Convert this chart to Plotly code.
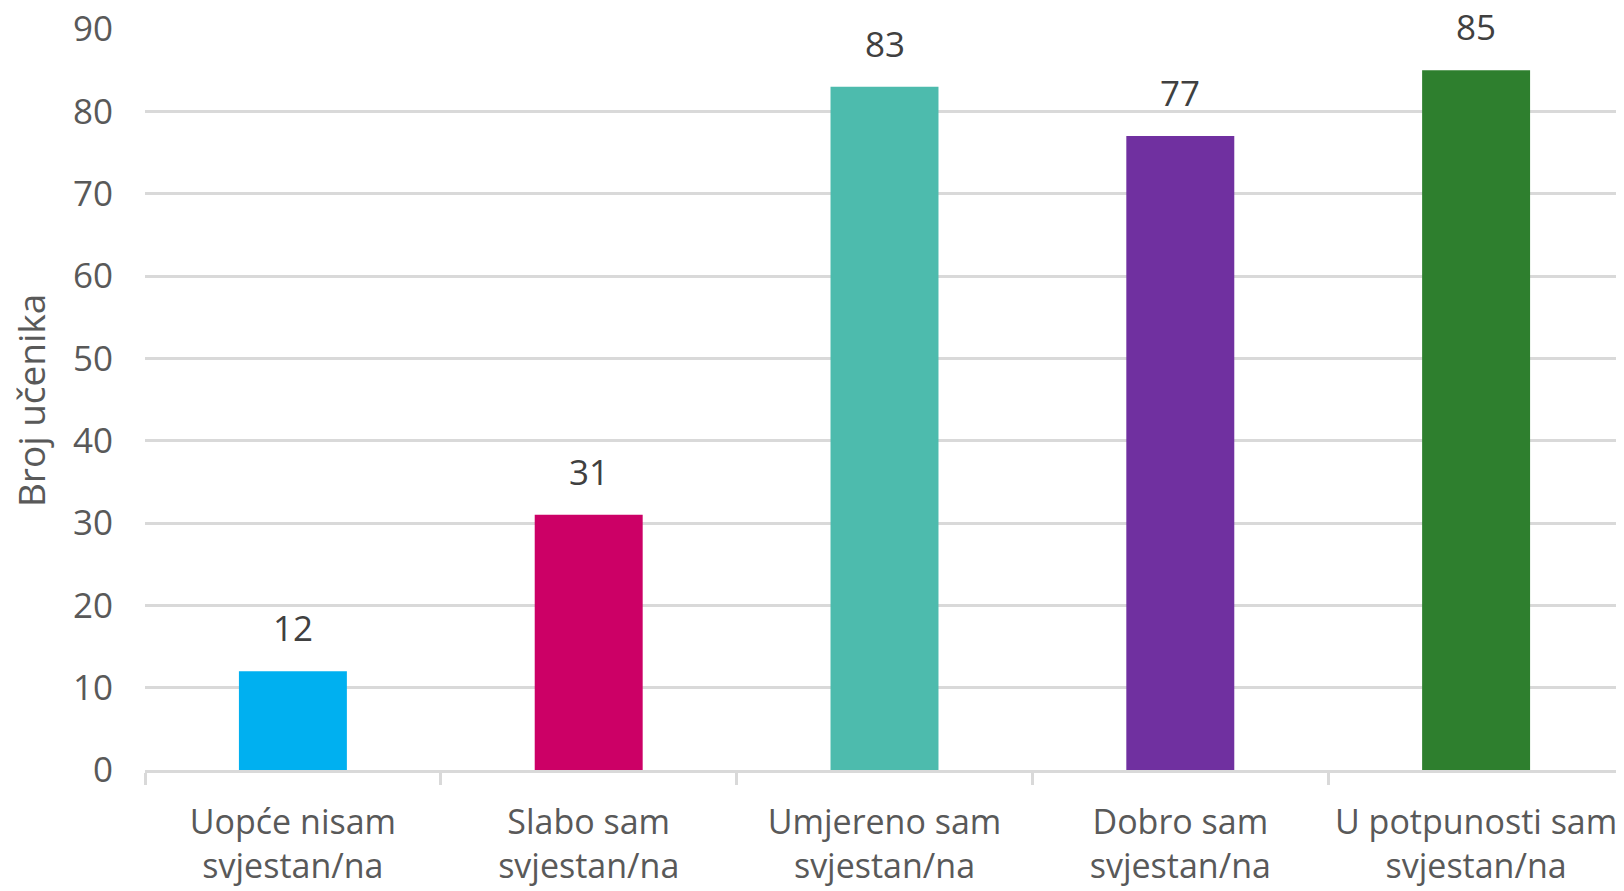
import plotly.graph_objects as go

categories = ["Uopće nisam<br>svjestan/na", "Slabo sam<br>svjestan/na", "Umjereno sam<br>svjestan/na",
              "Dobro sam<br>svjestan/na", "U potpunosti sam<br>svjestan/na"]
values = [12, 31, 83, 77, 85]
colors = ["#00B0F0", "#CC0066", "#4DBBAD", "#7030A0", "#2E7F2E"]
y_ticks = [0, 10, 20, 30, 40, 50, 60, 70, 80, 90]
y_title = "Broj učenika"

FONT = "Open Sans"

fig = go.Figure(go.Bar(
    x=categories, y=values, marker=dict(color=colors, line=dict(width=0)),
    hoverinfo="x+y",
))

for c, v in zip(categories, values):
    fig.add_annotation(x=c, y=v, text=str(v), showarrow=False, yanchor="bottom",
                       yshift=18, font=dict(family=FONT, size=35, color="#404040"))

fig.add_annotation(xref="paper", yref="paper", x=-0.077, y=0.498, text=y_title,
                   textangle=-90, showarrow=False, xanchor="center", yanchor="middle",
                   font=dict(family=FONT, size=37, color="#595959"))

fig.update_layout(
    width=1616, height=883,
    margin=dict(l=137, r=0, t=21, b=121),
    paper_bgcolor="white", plot_bgcolor="white",
    bargap=0.635,
    showlegend=False,
    font=dict(family=FONT, color="#595959"),
)
fig.update_yaxes(
    range=[0, 90], tickvals=y_ticks, showgrid=True, gridcolor="#D9D9D9", gridwidth=2.5,
    zeroline=False, showline=False, ticks="", ticklabelstandoff=31, automargin=False,
    ticklabeloverflow="allow",
    tickfont=dict(family=FONT, size=35, color="#595959"),
)
fig.update_xaxes(
    showline=True, linecolor="#D9D9D9", linewidth=2.5, automargin=False,
    ticks="outside", tickson="boundaries", ticklen=12, tickcolor="#D9D9D9", tickwidth=2.5,
    ticklabelstandoff=20, tickangle=0, ticklabeloverflow="allow",
    tickfont=dict(family=FONT, size=34, color="#595959"),
    showgrid=False,
)

fig.write_html("out.html")
